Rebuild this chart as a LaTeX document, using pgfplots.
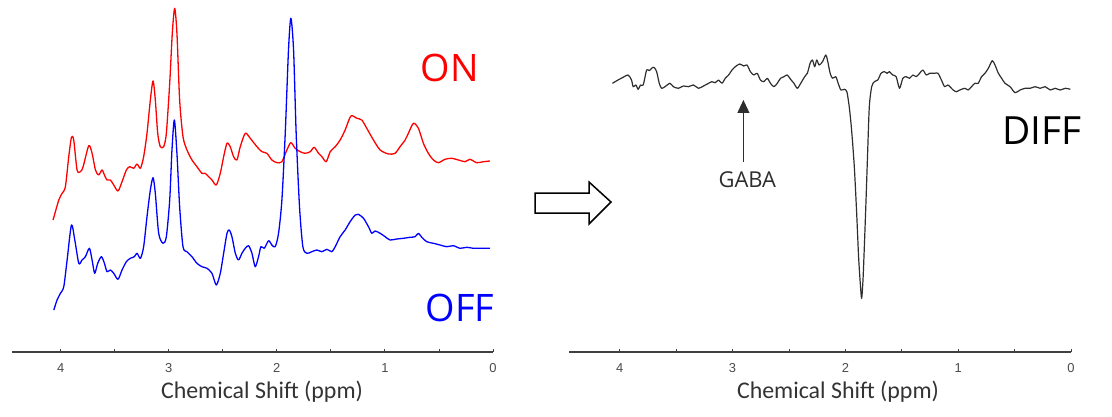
\documentclass[border=0pt]{standalone}
\usepackage{pgfplots}
\pgfplotsset{compat=1.18}
\usepackage{pgfplotstable}
\usetikzlibrary{arrows.meta}
\usepackage{fontspec}
\setmainfont{Open Sans}
\newfontfamily\labelfont{Carlito}
\newfontfamily\tickfont{Liberation Sans}

\definecolor{axisgray}{HTML}{404040}
\definecolor{tickgray}{HTML}{4A4A4A}
\definecolor{diffgray}{HTML}{2E2E2E}
\definecolor{titlegray}{HTML}{333333}

% ON spectrum (edited)
\pgfplotstableread{
ppm signal
4.070 132
4.017 152
3.986 158.7
3.956 165.3
3.925 195.3
3.900 214.7
3.879 212
3.848 182
3.817 180.3
3.792 185.3
3.740 206.3
3.709 198.7
3.678 182
3.648 177
3.617 182
3.595 177
3.571 172
3.540 172
3.509 167
3.469 161
3.432 170.3
3.392 182
3.361 185.3
3.324 183.7
3.293 188
3.262 183.7
3.232 195.3
3.201 218.7
3.170 252
3.145 271
3.124 252
3.102 218.7
3.078 205.3
3.047 205.3
3.022 218.7
2.991 268.7
2.967 318.7
2.945 343.7
2.924 318.7
2.899 252
2.868 215.3
2.831 202
2.785 192
2.739 185.3
2.693 178.7
2.662 178.7
2.631 175.3
2.600 172
2.560 167
2.523 178.7
2.492 195.3
2.461 208.7
2.431 205.3
2.400 195.3
2.369 192
2.338 205.3
2.292 218.7
2.246 213.7
2.184 205.3
2.138 200.3
2.092 198.7
2.046 192
1.999 189.3
1.953 190.3
1.907 202
1.870 209.3
1.830 203.7
1.784 200.3
1.738 198.7
1.691 200.3
1.654 204.7
1.614 198.7
1.583 195.3
1.543 190.3
1.506 200.3
1.460 205.3
1.414 212
1.368 222
1.315 236
1.260 233.7
1.214 232
1.168 223.7
1.106 212
1.044 202
0.967 198
0.906 198.7
0.860 205.3
0.813 212
0.783 218.7
0.736 228.7
0.690 223.7
0.644 208.7
0.598 198.7
0.551 192
0.505 189.3
0.444 192.7
0.382 193.7
0.320 192
0.259 190.3
0.213 192.7
0.151 189.3
0.089 190.3
0.028 191
}\onspec

% OFF spectrum
\pgfplotstableread{
ppm signal
4.063 42
4.033 52
4.002 58.7
3.971 65.3
3.940 92
3.900 127
3.869 112
3.832 88.7
3.802 92
3.771 95.3
3.734 103.7
3.709 92
3.685 78.7
3.657 88.7
3.623 95.3
3.595 88.7
3.571 80.3
3.540 82
3.509 78.7
3.469 72.7
3.432 82
3.392 90.3
3.355 93.7
3.318 95.3
3.293 98.7
3.262 93.7
3.232 105.3
3.201 135.3
3.170 162
3.145 174.3
3.124 158.7
3.093 118.7
3.053 108.7
3.022 115.3
2.991 152
2.970 202
2.948 232
2.924 198.7
2.899 145.3
2.868 105.3
2.831 100.3
2.785 95.3
2.739 88.7
2.693 85.3
2.646 83.7
2.600 78.7
2.560 67
2.523 78.7
2.492 98.7
2.461 118.7
2.440 122
2.415 115.3
2.384 98.7
2.354 92
2.323 98.7
2.292 103.7
2.261 106.3
2.230 98.7
2.200 85.3
2.169 95.3
2.147 105.3
2.116 103.7
2.076 111.3
2.046 107
2.015 105.3
1.984 118.7
1.953 152
1.922 218.7
1.892 302
1.870 333.7
1.845 302
1.821 218.7
1.790 145.3
1.759 105.3
1.722 98.7
1.676 100.3
1.630 102
1.583 100.3
1.537 102.7
1.491 100.3
1.460 105.3
1.414 115.3
1.368 122
1.322 130.3
1.275 137
1.245 137.7
1.198 133.7
1.152 125.3
1.121 118.7
1.091 121
1.044 118.7
0.998 115.3
0.952 112
0.890 113
0.829 113.7
0.767 114.7
0.721 115.3
0.690 118.7
0.659 114.7
0.613 110.3
0.551 108.7
0.490 107
0.428 105.3
0.367 106.3
0.305 103.7
0.243 104.7
0.182 103.7
0.120 103.7
0.028 103.7
}\offspec

% DIFF = ON - OFF
\pgfplotstableread{
ppm signal
4.065 268.7
4.015 272
3.970 274.7
3.926 277
3.896 272
3.881 265.3
3.857 267
3.837 262.7
3.816 267
3.792 267
3.762 282
3.739 281.3
3.718 283.7
3.697 284.7
3.673 280.3
3.650 268.7
3.629 263.7
3.599 265.3
3.555 268.7
3.525 265.3
3.480 263.7
3.436 266
3.391 265.3
3.347 267
3.302 263.7
3.258 266
3.213 268.7
3.183 270.3
3.154 269.3
3.124 272
3.094 268.7
3.065 273.7
3.035 277
3.005 282
2.976 285.3
2.937 288
2.901 286
2.872 287
2.842 280.3
2.812 277
2.782 278.7
2.753 272
2.723 270.3
2.693 273.7
2.664 268.7
2.634 265.3
2.604 268.7
2.575 273.7
2.545 275.3
2.515 277
2.486 272.7
2.456 268.7
2.426 263.7
2.396 268.7
2.361 275.3
2.337 278.7
2.313 288.7
2.292 292
2.272 285.3
2.254 292
2.233 287
2.203 290.3
2.174 297
2.159 292
2.135 278.7
2.114 273.7
2.085 275.3
2.064 268.7
2.040 262
2.010 262.7
1.987 260.3
1.966 245.3
1.945 222
1.921 185.3
1.900 138.7
1.883 95.3
1.868 68.7
1.856 53.7
1.844 72
1.832 105.3
1.817 152
1.802 202
1.788 245.3
1.767 265.3
1.743 270.3
1.713 272
1.684 278.7
1.654 280.3
1.630 278.7
1.610 280.3
1.580 277
1.550 275.3
1.520 263.7
1.491 273.7
1.461 275.3
1.431 273.7
1.402 277
1.372 275.3
1.342 278.7
1.313 282
1.283 277
1.253 278.7
1.209 278.7
1.179 278.7
1.149 272
1.120 265.3
1.090 267
1.045 262
1.016 260.3
0.986 262
0.941 263.7
0.912 262
0.882 265.3
0.852 268.7
0.823 268.7
0.793 275.3
0.763 278.7
0.733 283.7
0.698 291.3
0.674 287
0.644 278.7
0.615 273.7
0.585 268.7
0.540 265.3
0.496 259.3
0.451 262
0.407 263.7
0.362 263.7
0.318 265.3
0.273 263.7
0.229 265.3
0.184 262
0.140 263.7
0.095 262
0.050 263.7
0.006 262.7
}\diffspec

\pgfplotsset{
  ppmaxis/.style={
    scale only axis,
    height=352bp,
    xmin=0, xmax=4.45,
    x dir=reverse,
    ymin=0, ymax=352,
    axis x line=bottom,
    axis y line=none,
    axis line style={axisgray, line width=1.3bp, -},
    xtick={0,1,2,3,4},
    minor xtick={0.5,1.5,2.5,3.5},
    tick align=inside,
    major tick length=3.5bp,
    minor tick length=3.5bp,
    tick style={axisgray, line width=0.9bp},
    /pgf/number format/assume math mode=true,
    xticklabel style={font=\tickfont\fontsize{13}{13}\selectfont, text=tickgray, yshift=-8bp},
    anchor=south west,
  },
  spec/.style={smooth, tension=0.45, line join=round},
}

\begin{document}
\begin{tikzpicture}[x=1bp, y=1bp]
\useasboundingbox (0,0) rectangle (1112,416);

% left panel: edited (ON) and non-edited (OFF) spectra
\begin{axis}[ppmaxis, at={(12bp,64bp)}, width=481bp]
  \addplot[spec, red, line width=1.3bp] table[x=ppm, y=signal] {\onspec};
  \addplot[spec, blue, line width=1.3bp] table[x=ppm, y=signal] {\offspec};
\end{axis}

% right panel: difference spectrum
\begin{axis}[ppmaxis, at={(569bp,64bp)}, width=502bp, clip=false]
  \addplot[spec, diffgray, line width=1.2bp] table[x=ppm, y=signal] {\diffspec};
  \draw[diffgray, line width=0.9bp, -{Triangle[width=12bp, length=13bp]}]
    (axis cs:2.904,190) -- (axis cs:2.904,252);
  \node[font=\fontsize{22}{22}\selectfont, text=diffgray, inner sep=0pt]
    at (axis cs:2.869,172) {GABA};
\end{axis}

% panel labels
\node[font=\fontsize{38}{38}\selectfont, text=red, inner sep=0pt] at (450,348) {ON};
\node[font=\fontsize{38}{38}\selectfont, text=blue, inner sep=0pt] at (460,108) {OFF};
\node[font=\fontsize{39}{39}\selectfont, text=black, inner sep=0pt] at (1042,285) {DIFF};

% axis titles
\node[font=\labelfont\fontsize{24}{24}\selectfont, text=titlegray, anchor=base, inner sep=0pt] at (262,18) {Chemical Shift (ppm)};
\node[font=\labelfont\fontsize{24}{24}\selectfont, text=titlegray, anchor=base, inner sep=0pt] at (838,18) {Chemical Shift (ppm)};

% block arrow between the panels
\draw[black, line width=1.5bp, line join=miter]
  (535,223) -- (589,223) -- (589,234) -- (611,214) -- (589,192) -- (589,203) -- (535,203) -- cycle;
\end{tikzpicture}
\end{document}
